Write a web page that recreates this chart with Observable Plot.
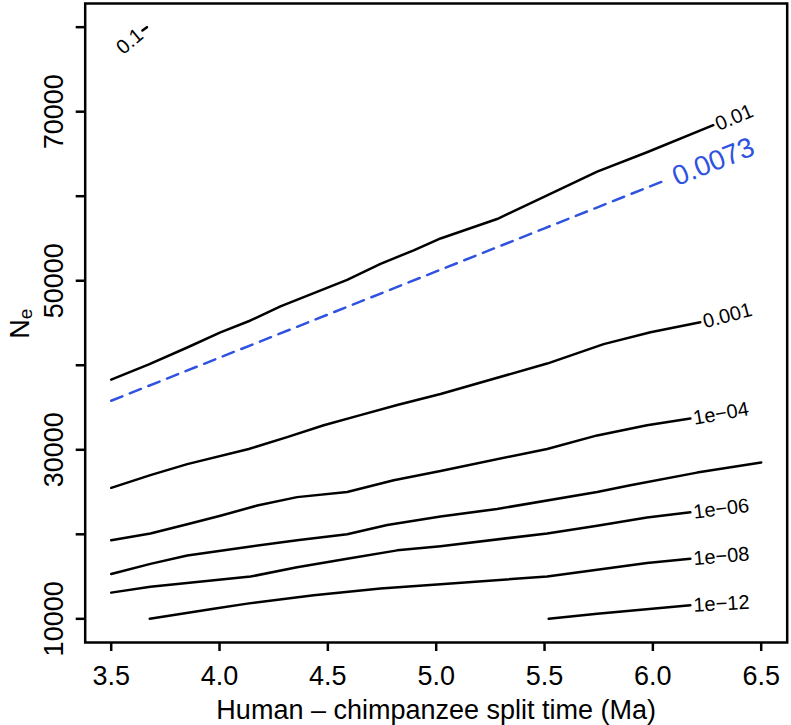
<!DOCTYPE html>
<html>
<head>
<meta charset="utf-8">
<script src="https://cdn.jsdelivr.net/npm/d3@7"></script>
<script src="https://cdn.jsdelivr.net/npm/@observablehq/plot@0.6"></script>
<style>
  html, body { margin: 0; padding: 0; background: #ffffff; }
</style>
</head>
<body>
<div id="chart"></div>
<script>
// ---- Data (split time in Ma, Ne) ----
const xTicks = [3.5, 4.0, 4.5, 5.0, 5.5, 6.0, 6.5];
const yTicksAll = [10000, 20000, 30000, 40000, 50000, 60000, 70000, 80000];
const yTickLabels = [10000, 30000, 50000, 70000];

const c0_1_x = [3.644, 3.665];
const c0_1_y = [79600, 80000];

const c0_01_x = [3.5, 3.674, 3.851, 4.004, 4.143, 4.281, 4.589, 4.743, 4.896, 5.020, 5.281, 5.512, 5.743, 5.973, 6.279];
const c0_01_y = [38300, 40100, 42100, 43900, 45300, 46960, 50100, 52000, 53600, 55000, 57300, 60100, 62900, 65200, 68400];

const c0_0073_x = [3.5, 4.0, 4.5, 5.0, 5.5, 6.05];
const c0_0073_y = [35800, 40900, 46000, 51100, 56200, 61800];

const c0_001_x = [3.5, 3.681, 3.851, 4.135, 4.312, 4.481, 4.650, 4.820, 5.020, 5.512, 5.773, 5.989, 6.219];
const c0_001_y = [25500, 27000, 28300, 30100, 31500, 32900, 34100, 35300, 36600, 40200, 42500, 43900, 45100];

const c1e04_x = [3.5, 3.681, 3.851, 4.004, 4.174, 4.358, 4.589, 4.804, 5.020, 5.512, 5.743, 5.973, 6.173];
const c1e04_y = [19300, 20100, 21200, 22200, 23400, 24400, 25000, 26400, 27500, 30100, 31700, 32900, 33700];

const c1e05_x = [3.5, 3.681, 3.851, 4.128, 4.358, 4.589, 4.774, 5.020, 5.281, 5.743, 5.896, 6.204, 6.5];
const c1e05_y = [15300, 16500, 17500, 18500, 19300, 20000, 21100, 22100, 23000, 25000, 25800, 27300, 28500];

const c1e06_x = [3.5, 3.681, 4.143, 4.358, 4.589, 4.820, 5.020, 5.512, 5.743, 5.973, 6.173];
const c1e06_y = [13100, 13800, 15000, 16100, 17100, 18100, 18600, 20100, 21000, 22000, 22600];

const c1e08_x = [3.678, 3.973, 4.128, 4.435, 4.743, 5.020, 5.512, 5.743, 5.973, 6.173];
const c1e08_y = [10000, 11200, 11800, 12800, 13600, 14100, 15000, 15800, 16600, 17100];

const c1e12_x = [5.519, 5.743, 6.173];
const c1e12_y = [10000, 10600, 11600];

const levelNames = ["0.1", "0.01", "0.001", "1e\u221204", "1e\u221205", "1e\u221206", "1e\u221208", "1e\u221212"];
const labelShown = [true, true, true, true, false, true, true, true];
const labelAngles = [-40, -23, -15, -10, 0, -7, -5, -3];
const blackXs = [c0_1_x, c0_01_x, c0_001_x, c1e04_x, c1e05_x, c1e06_x, c1e08_x, c1e12_x];
const blackYs = [c0_1_y, c0_01_y, c0_001_y, c1e04_y, c1e05_y, c1e06_y, c1e08_y, c1e12_y];

const blueLevel = "0.0073";
const blueAngle = -22;

const xTitle = "Human \u2013 chimpanzee split time (Ma)";
const yTitleMain = "N";
const yTitleSub = "e";

// ---- Build tables ----
const blackRows = levelNames.flatMap((lev, k) => blackXs[k].map((x, i) => ({level: lev, x, y: blackYs[k][i]})));
const blueRows = c0_0073_x.map((x, i) => ({level: blueLevel, x, y: c0_0073_y[i]}));

// Labels sit at the end of each contour line (0.1 label sits before its short piece)
const endLabels = levelNames.map((lev, k) => {
  const n = blackXs[k].length;
  return {level: lev, x: blackXs[k][n - 1], y: blackYs[k][n - 1], angle: labelAngles[k], show: labelShown[k]};
}).filter(d => d.show && d.level !== "0.1");
const startLabel = [{level: levelNames[0], x: c0_1_x[0], y: c0_1_y[0], angle: labelAngles[0]}];
const blueLabel = [{level: blueLevel, x: c0_0073_x[c0_0073_x.length - 1], y: c0_0073_y[c0_0073_y.length - 1], angle: blueAngle}];

const BLUE = "#2f52e0";
const FONT = "'Liberation Sans', Arial, Helvetica, sans-serif";

const chart = Plot.plot({
  width: 791,
  height: 725,
  marginLeft: 84.7,
  marginRight: 4.3,
  marginTop: 3,
  marginBottom: 83,
  style: {fontFamily: FONT, fontSize: "27px", color: "black", background: "white", overflow: "visible"},
  x: {domain: [3.38, 6.62], label: null},
  y: {domain: [7200, 82800], label: null},
  marks: [
    Plot.line(blackRows, {x: "x", y: "y", z: "level", stroke: "black", strokeWidth: 2.5, strokeLinejoin: "round"}),
    Plot.line(blueRows, {x: "x", y: "y", stroke: BLUE, strokeWidth: 2.5, strokeDasharray: "12,8"}),
    Plot.text(endLabels, {x: "x", y: "y", text: "level", rotate: "angle", textAnchor: "start", lineAnchor: "middle", dx: 3, fontSize: 20, fill: "black"}),
    Plot.text(startLabel, {x: "x", y: "y", text: "level", rotate: "angle", textAnchor: "end", lineAnchor: "middle", dx: -2, dy: 2, fontSize: 20, fill: "black"}),
    Plot.text(blueLabel, {x: "x", y: "y", text: "level", rotate: "angle", textAnchor: "start", lineAnchor: "middle", dx: 10, dy: -3, fontSize: 28, fill: BLUE}),
    Plot.frame({stroke: "black", strokeWidth: 2.5}),
    Plot.axisX({ticks: xTicks, tickSize: 9, tickPadding: 14, strokeWidth: 2.5, fontSize: 27, tickFormat: d3.format(".1f"), label: null}),
    Plot.axisY({ticks: yTicksAll, tickSize: 9, strokeWidth: 2.5, tickFormat: () => "", label: null}),
    Plot.axisY({ticks: yTickLabels, tickSize: 0, tickRotate: -90, tickPadding: 22, fontSize: 27, tickFormat: d3.format("d"), label: null}),
    Plot.text([xTitle], {text: d => d, frameAnchor: "bottom", lineAnchor: "bottom", dy: 76, fontSize: 27, fill: "black"}),
    Plot.text([yTitleMain], {text: d => d, frameAnchor: "left", rotate: -90, textAnchor: "middle", lineAnchor: "bottom", dx: -56, dy: 6, fontSize: 27, fill: "black"}),
    Plot.text([yTitleSub], {text: d => d, frameAnchor: "left", rotate: -90, textAnchor: "middle", lineAnchor: "bottom", dx: -53, dy: -9, fontSize: 19, fill: "black"})
  ]
});

document.getElementById("chart").appendChild(chart);
</script>
</body>
</html>
